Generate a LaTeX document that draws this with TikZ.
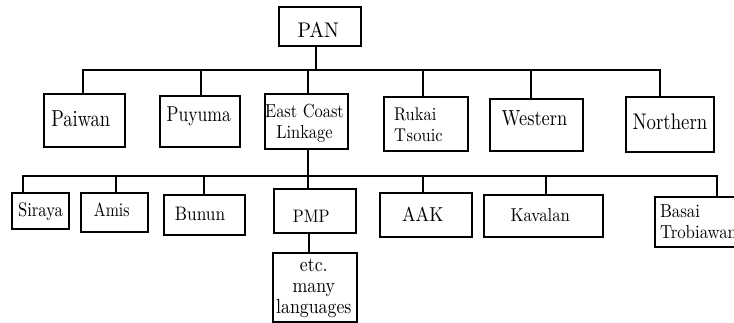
\documentclass[tikz,border=0pt]{standalone}
\usepackage{fontspec}
\setmainfont{lmroman10-regular.otf}
\newcommand\vt[2]{\scalebox{1}[#1]{#2}}
\begin{document}
\begin{tikzpicture}[x=1pt,y=-1pt,
  box/.style={draw, line width=1.2pt, inner sep=0pt, text depth=0pt},
  link/.style={line width=1.2pt},
  fs/.style={font=\fontsize{#1}{21}\selectfont}]
\clip (0,0) rectangle (734,323);
\fill[white] (0,0) rectangle (734,323);
\coordinate (bus1) at (0,70);
\coordinate (bus2) at (0,176);
% top
\node[box, minimum width=82pt, minimum height=39pt, text height=22.4pt, fs=19.8] (pan) at (320,26.5)
  {\hspace*{-3.4pt}\vt{1.07}{PAN}};
% first level
\node[box, minimum width=81pt, minimum height=53pt, text height=12.4pt, fs=18.5] (paiwan) at (84.5,120.5)
  {\hspace*{-7.6pt}\vt{1.25}{Paiwan}};
\node[box, minimum width=80pt, minimum height=51pt, text height=0.4pt, fs=17.6] (puyuma) at (200,121.5)
  {\hspace*{-2.4pt}\vt{1.22}{Puyuma}};
\node[box, minimum width=83pt, minimum height=55pt, text height=0pt, text depth=8.4pt, fs=16.4] (ecl) at (306.5,121.5)
  {\hspace*{-4pt}\begin{tabular}[t]{@{}c@{}}\vt{1.15}{East Coast}\\\vt{1.15}{Linkage}\end{tabular}};
\node[box, minimum width=84pt, minimum height=54pt, text height=0pt, text depth=6pt, fs=16.5] (rukai) at (426,124)
  {\makebox[64pt][l]{\begin{tabular}[t]{@{}l@{}}\vt{1.12}{Rukai}\\\vt{1.12}{T\kern.6pt s\kern.4pt ouic}\end{tabular}}};
\node[box, minimum width=93pt, minimum height=52pt, text height=2pt, fs=18.4] (western) at (536.5,125)
  {\hspace*{-4pt}\vt{1.19}{Western}};
\node[box, minimum width=88pt, minimum height=55pt, text height=11pt, fs=18.8] (northern) at (670,124.5)
  {\vt{1.2}{Northern}};
% second level
\node[box, minimum width=57pt, minimum height=36pt, text height=11.4pt, fs=16.6] (siraya) at (40.5,211)
  {\vt{1.18}{Siraya}};
\node[box, minimum width=67pt, minimum height=39pt, text height=8.4pt, fs=15.8] (amis) at (114.5,212.5)
  {\hspace*{-5.4pt}\vt{1.22}{Amis}};
\node[box, minimum width=81pt, minimum height=40pt, text height=12pt, fs=17.3] (bunun) at (204.5,215)
  {\hspace*{-9pt}\vt{1.13}{Bunun}};
\node[box, minimum width=82pt, minimum height=44pt, text height=22.6pt, fs=16.1] (pmp) at (315,211)
  {\hspace*{-7.4pt}\vt{1.12}{PMP}};
\node[box, minimum width=84pt, minimum height=69pt, text height=0pt, text depth=31.6pt, fs=17.8] (etc) at (315,287.5)
  {\hspace*{-2.4pt}\begin{tabular}[t]{@{}c@{}}\vt{1.15}{etc.}\\\vt{1.15}{many}\\\vt{1.15}{languages}\end{tabular}};
\node[box, minimum width=92pt, minimum height=44pt, text height=13.4pt, fs=18.2] (aak) at (426,215)
  {\hspace*{-6.4pt}\vt{1.11}{AAK}};
\node[box, minimum width=119pt, minimum height=42pt, text height=11.4pt, fs=16.7] (kavalan) at (543.5,216)
  {\hspace*{-6.4pt}\vt{1.12}{Kavalan}};
\node[box, minimum width=100pt, minimum height=50pt, text height=0pt, text depth=8pt, fs=16.8] (basai) at (705,222)
  {\makebox[90pt][l]{\begin{tabular}[t]{@{}l@{}}\vt{1.12}{Basai}\\\vt{1.12}{Trobiawan}\end{tabular}}};
% connectors, level 1
\draw[link] ([xshift=-4pt]pan.south) -- ([xshift=-4pt]pan.south |- bus1);
\draw[link] ([xshift=-1.5pt]paiwan.north) -- ([xshift=-1.5pt]paiwan.north |- bus1)
  -- ([xshift=-10pt]northern.north |- bus1) -- ([xshift=-10pt]northern.north);
\draw[link] ([xshift=1pt]puyuma.north) -- ([xshift=1pt]puyuma.north |- bus1);
\draw[link] ([xshift=1.5pt]ecl.north) -- ([xshift=1.5pt]ecl.north |- bus1);
\draw[link] ([xshift=-3pt]rukai.north) -- ([xshift=-3pt]rukai.north |- bus1);
\draw[link] ([xshift=-5.5pt]western.north) -- ([xshift=-5.5pt]western.north |- bus1);
% connectors, level 2
\draw[link] ([xshift=1.5pt]ecl.south) -- ([xshift=1.5pt]ecl.south |- pmp.north);
\draw[link] ([xshift=-17.5pt]siraya.north) -- ([xshift=-17.5pt]siraya.north |- bus2)
  -- ([xshift=12pt]basai.north |- bus2) -- ([xshift=12pt]basai.north);
\draw[link] ([xshift=1.5pt]amis.north) -- ([xshift=1.5pt]amis.north |- bus2);
\draw[link] ([xshift=-0.5pt]bunun.north) -- ([xshift=-0.5pt]bunun.north |- bus2);
\draw[link] ([xshift=-3pt]aak.north) -- ([xshift=-3pt]aak.north |- bus2);
\draw[link] ([xshift=2.5pt]kavalan.north) -- ([xshift=2.5pt]kavalan.north |- bus2);
\draw[link] ([xshift=-6pt]pmp.south) -- ([xshift=-6pt]pmp.south |- etc.north);
\end{tikzpicture}
\end{document}
